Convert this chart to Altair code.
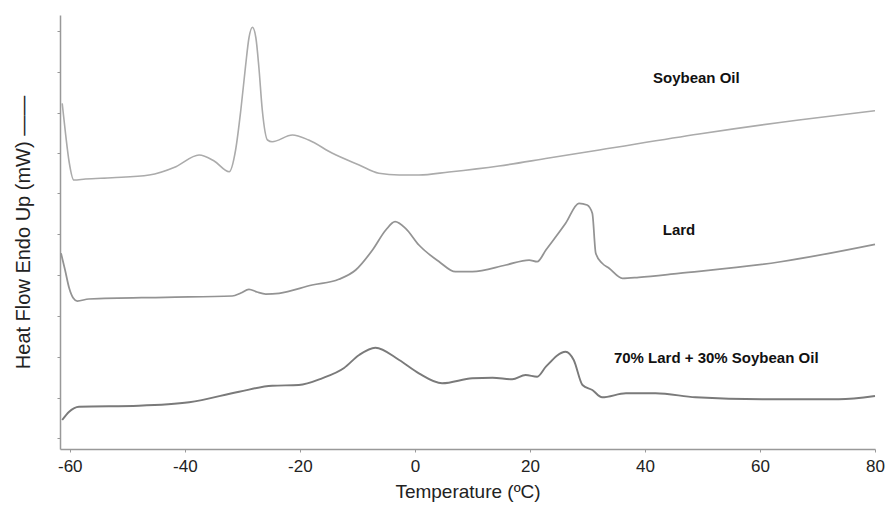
import altair as alt
import pandas as pd

# ---- data (temperature in °C, heat flow in arbitrary units) ----
soy_t = [-61.32, -60.71, -60.11, -59.30, -57.29, -52.65, -46.19, -41.55, -37.52, -34.90, -32.28,
         -31.17, -30.26, -29.45, -28.85, -28.24, -27.64, -27.13, -26.53, -25.62, -24.82, -21.29,
         -18.46, -14.33, -9.69, -6.26, -2.73, 0.70, 5.94, 14.61, 23.29, 32.06, 49.40, 66.75, 80.0]
soy_v = [345.7, 314, 287, 269, 270, 271.3, 274, 282.3, 294, 288, 277.3,
         299, 339, 382.3, 411, 421.7, 411, 382.3, 339, 309, 307.3, 314,
         309, 295.7, 284, 275.7, 274, 274, 277, 283, 291, 299, 315, 329, 338.3]

lard_t = [-61.52, -60.82, -60.11, -59.40, -58.70, -56.68, -43.37, -31.77, -30.26, -28.85, -27.44,
          -25.92, -23.61, -17.86, -13.22, -10.29, -7.37, -5.05, -3.44, -1.62, 0.70, 4.23, 7.05,
          9.98, 15.82, 19.86, 21.27, 22.78, 26.21, 28.53, 29.94, 30.85, 31.45, 32.56, 33.77,
          36.09, 38.92, 45.87, 63.32, 80.0]
lard_v = [195.7, 179, 161, 151, 148, 150, 151.7, 153, 156, 159.7, 157,
          155, 155.7, 164, 169.7, 179, 199, 219, 227.3, 220.7, 204, 187.3, 177.3,
          177.3, 184, 189, 187.3, 199, 225.7, 245.7, 244, 235.7, 195.7, 185.7, 180.7,
          170.7, 171.7, 175.7, 187, 204.7]

blend_t = [-61.32, -60.11, -58.40, -48.01, -39.24, -30.56, -24.82, -20.18, -16.14, -12.31, -9.69,
           -6.87, -2.73, 0.70, 4.73, 9.98, 13.50, 16.93, 19.25, 21.27, 22.78, 26.21, 27.62,
           29.14, 30.85, 32.56, 36.70, 41.84, 48.80, 60.40, 73.71, 80.0]
blend_v = [29, 37.3, 42.3, 43.3, 46.7, 57.3, 63.3, 64, 70.7, 81, 94,
           101.3, 89, 75.7, 65.7, 70.7, 71.3, 69.7, 74, 72.3, 82.3, 97.3, 89,
           64, 59, 51.7, 55.7, 55.7, 51.7, 49.7, 49.7, 53]

series_names = ["Soybean Oil", "Lard", "70% Lard + 30% Soybean Oil"]
series_colors = ["#ababab", "#939393", "#7a7a7a"]

label_text = ["Soybean Oil", "Lard", "70% Lard + 30% Soybean Oil"]
label_t = [41.4, 43.1, 34.6]
label_v = [371, 219, 91]

x_ticks = [-60, -40, -20, 0, 20, 40, 60, 80]
y_ticks = [11, 51, 92, 133, 174, 215, 256, 296, 336, 377, 418]

rows = []
for name, ts, vs in zip(series_names, [soy_t, lard_t, blend_t], [soy_v, lard_v, blend_v]):
    for i, (t, v) in enumerate(zip(ts, vs)):
        rows.append({"series": name, "t": t, "v": v, "order": i})
df = pd.DataFrame(rows)
labels = pd.DataFrame({"text": label_text, "t": label_t, "v": label_v})

FONT = "Liberation Sans"

x_enc = alt.X("t:Q",
              scale=alt.Scale(domain=[-61.7, 80], nice=False, zero=False),
              axis=alt.Axis(values=x_ticks, title="Temperature (ºC)", grid=False,
                            labelExpr="datum.value < 0 ? '-' + abs(datum.value) : '' + datum.value",
                            labelFontSize=17, labelColor="#222", labelFont=FONT,
                            labelPadding=6, tickSize=3, tickColor="#999",
                            domainColor="#999", domainWidth=1.5,
                            titleFontSize=19, titleFontWeight="normal", titleColor="#222",
                            titleFont=FONT, titlePadding=8, labelFlush=False))
y_enc = alt.Y("v:Q",
              scale=alt.Scale(domain=[0, 434], nice=False, zero=False),
              axis=alt.Axis(values=y_ticks, labels=False, grid=False,
                            title="Heat Flow Endo Up (mW) ——",
                            tickSize=3, tickColor="#999", domainColor="#999", domainWidth=1.5,
                            titleFontSize=20, titleFontWeight="normal", titleColor="#222",
                            titleFont=FONT, titlePadding=23))

lines = alt.Chart(df).mark_line(interpolate="monotone").encode(
    x=x_enc,
    y=y_enc,
    order="order:Q",
    color=alt.Color("series:N", scale=alt.Scale(domain=series_names, range=series_colors), legend=None),
    strokeWidth=alt.StrokeWidth("series:N", scale=alt.Scale(domain=series_names, range=[1.6, 1.9, 2.6]), legend=None),
)

texts = alt.Chart(labels).mark_text(align="left", baseline="middle", fontSize=15,
                                    fontWeight="bold", font=FONT, color="#111").encode(
    x="t:Q", y="v:Q", text="text:N")

chart = (lines + texts).properties(
    width=815, height=434,
    autosize=alt.AutoSizeParams(type="none"),
    padding={"left": 52, "top": 7, "right": 10, "bottom": 56},
    background="white",
).configure_view(stroke=None)

chart.save("out.html", embed_options={"renderer": "svg", "actions": False})
